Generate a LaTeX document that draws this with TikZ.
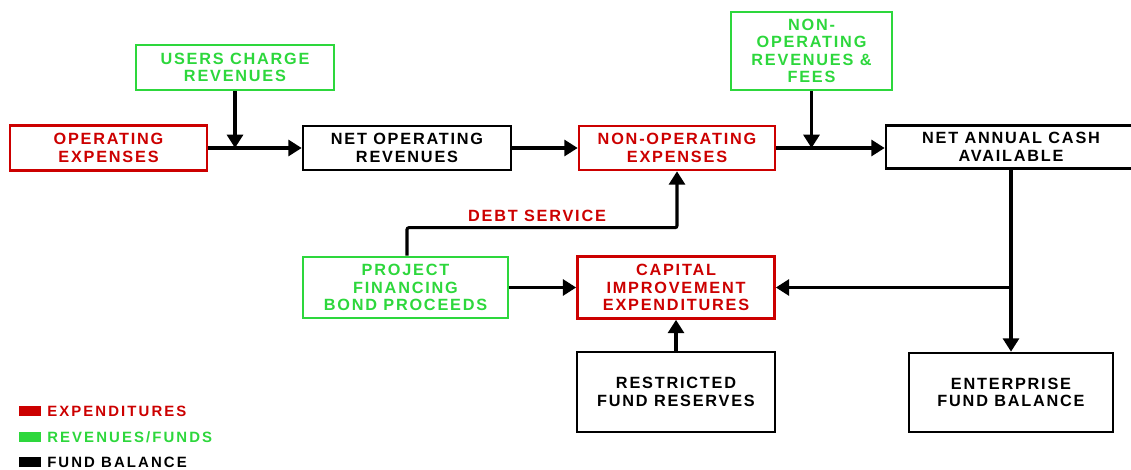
\documentclass[tikz,border=0pt]{standalone}
\usepackage{fontspec}
\setmainfont{Liberation Sans}
\newfontfamily\boxf[LetterSpace=11]{Liberation Sans}
\newfontfamily\legf[LetterSpace=14]{Liberation Sans}
\usetikzlibrary{arrows.meta}
\definecolor{expred}{RGB}{204,0,0}
\definecolor{revgreen}{RGB}{45,215,60}
\tikzset{
  box/.style={draw, line width=2pt, inner sep=0pt, align=center,
    font=\boxf\bfseries\fontsize{12.2}{13.2}\selectfont},
  ebox/.style={box, draw=expred, text=expred},
  rbox/.style={box, draw=revgreen, text=revgreen},
  fbox/.style={box, draw=black, text=black},
  conn/.style={line width=2.3pt, draw=black},
  arr/.style={conn, -{Triangle[width=12pt,length=10pt]}},
  legtext/.style={anchor=west, inner sep=0pt, font=\legf\bfseries\fontsize{11.2}{12}\selectfont},
  swatch/.style={fill, draw=none}
}
\begin{document}
\begin{tikzpicture}[x=0.75pt, y=-0.75pt]
\useasboundingbox (0,0) rectangle (1131,470);
% top row
\node[rbox, minimum width=148.5pt, minimum height=33.75pt] (usr) at (235,67.5) {USERS CHARGE\\REVENUES};
\node[ebox, minimum width=147.75pt, minimum height=33.75pt] (oe) at (108.5,148) {OPERATING\\EXPENSES};
\node[fbox, minimum width=156pt, minimum height=33pt] (nor) at (407,148) {NET OPERATING\\REVENUES};
\node[ebox, minimum width=147pt, minimum height=33pt] (noe) at (677,148) {NON-OPERATING\\EXPENSES};
\node[rbox, minimum width=120.75pt, minimum height=58.5pt] (norf) at (811.5,51) {NON-\\OPERATING\\REVENUES \&\\FEES};
\node[fbox, minimum width=187.5pt, minimum height=32.25pt] (nac) at (1011,147) {NET ANNUAL CASH\\AVAILABLE};
% middle row
\node[rbox, minimum width=153.75pt, minimum height=45.75pt] (pfbp) at (405.5,287.5) {PROJECT\\FINANCING\\BOND PROCEEDS};
\node[ebox, minimum width=147.75pt, minimum height=46.5pt] (cie) at (676,287.5) {CAPITAL\\IMPROVEMENT\\EXPENDITURES};
% bottom row
\node[fbox, minimum width=148.5pt, minimum height=60pt] (rfr) at (676,392) {RESTRICTED\\FUND RESERVES};
\node[fbox, minimum width=153pt, minimum height=59.25pt] (efb) at (1011,392.5) {ENTERPRISE\\FUND BALANCE};
% connectors
\draw[arr] (oe.east) -- (nor.west);
\draw[arr] (usr.south) -- (usr.south |- nor.west);
\draw[arr] (nor.east) -- (noe.west);
\draw[arr] (noe.east) -- (noe.east -| nac.west);
\draw[arr] (norf.south) -- (norf.south |- noe.east);
\coordinate (dsl) at ([xshift=1.1pt]pfbp.north);
\draw[arr, rounded corners=1.5pt] (dsl) -- ++(0,-28) -| (noe.south);
\node[text=expred, inner sep=0pt, font=\boxf\bfseries\fontsize{12.2}{13.2}\selectfont] (ds) at (537,216) {DEBT SERVICE};
\draw[arr] (pfbp.east) -- (cie.west);
\draw[arr] (nac.south) -- (efb.north);
\coordinate (j) at (nac.south |- cie.east);
\draw[arr] (j) -- (cie.east);
\draw[arr] (rfr.north) -- (cie.south);
% legend
\fill[expred] (19,406) rectangle (41,416);
\fill[revgreen] (19,432) rectangle (41,442);
\fill[black] (19,457) rectangle (41,467);
\node[legtext, text=expred] (l1) at (47,411) {EXPENDITURES};
\node[legtext, text=revgreen] (l2) at (47,437) {REVENUES/FUNDS};
\node[legtext, text=black] (l3) at (47,462) {FUND BALANCE};
\end{tikzpicture}
\end{document}
